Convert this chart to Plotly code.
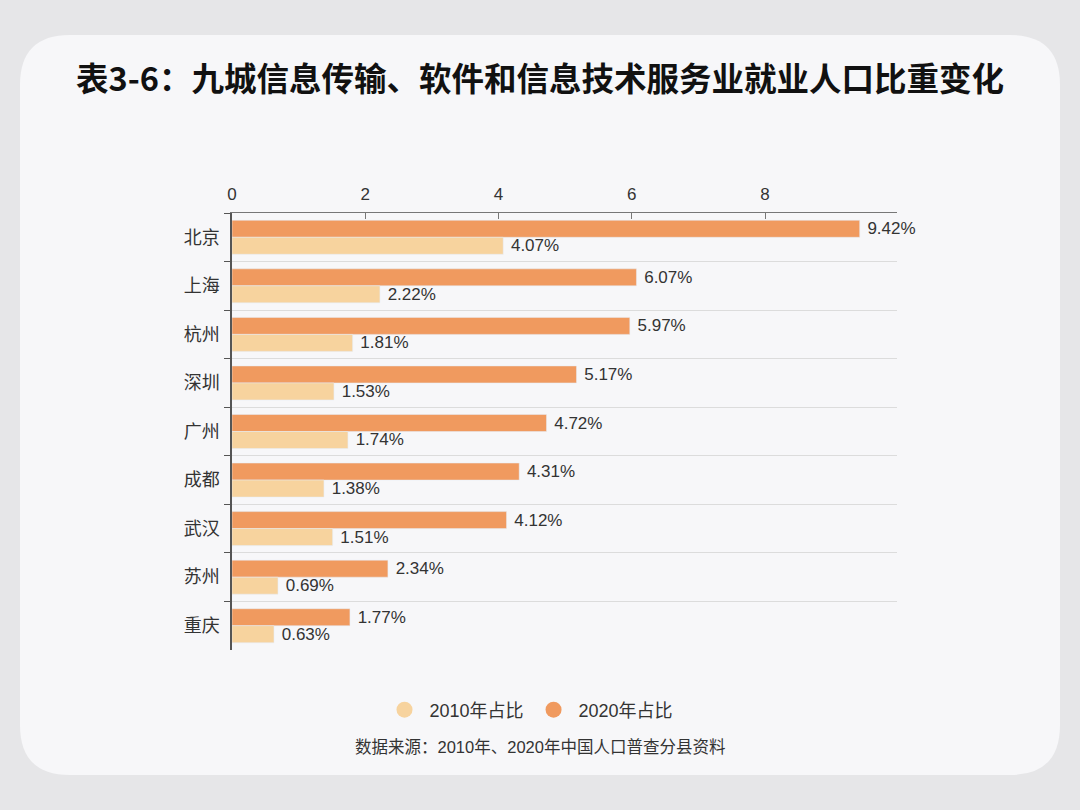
import plotly.graph_objects as go

cities = ["北京", "上海", "杭州", "深圳", "广州", "成都", "武汉", "苏州", "重庆"]
v2020 = [9.42, 6.07, 5.97, 5.17, 4.72, 4.31, 4.12, 2.34, 1.77]
v2010 = [4.07, 2.22, 1.81, 1.53, 1.74, 1.38, 1.51, 0.69, 0.63]
xticks = [0, 2, 4, 6, 8]

c2020 = "#F09A5F"
c2010 = "#F7D39E"
font_family = "Liberation Sans, Noto Sans CJK SC, sans-serif"

# plot area in pixels
L, R, T, B = 232, 897, 213, 650
W, H = R - L, B - T


def px(x, y):
    return f"{(x - L) / W:.5f},{(B - y) / H:.5f}"


fig = go.Figure()
fig.add_trace(go.Bar(
    y=cities, x=v2020, orientation="h", name="2020年占比",
    marker=dict(color=c2020), showlegend=False,
    text=[f" {v:.2f}%" for v in v2020], textposition="outside",
    constraintext="none",
    textfont=dict(size=17, color="#333"), cliponaxis=False,
))
fig.add_trace(go.Bar(
    y=cities, x=v2010, orientation="h", name="2010年占比",
    marker=dict(color=c2010), showlegend=False,
    text=[f" {v:.2f}%" for v in v2010], textposition="outside",
    constraintext="none",
    textfont=dict(size=17, color="#333"), cliponaxis=False,
))
# legend entries with circle markers
fig.add_trace(go.Scatter(x=[None], y=[None], mode="markers", name="2010年占比",
                         marker=dict(color=c2010, size=18, symbol="circle")))
fig.add_trace(go.Scatter(x=[None], y=[None], mode="markers", name="2020年占比",
                         marker=dict(color=c2020, size=18, symbol="circle")))

r = 50
x0, x1, y0, y1 = 20, 1060, 35, 775
card = (f"M {px(x0 + r, y0)} L {px(x1 - r, y0)} Q {px(x1, y0)} {px(x1, y0 + r)} "
        f"L {px(x1, y1 - r)} Q {px(x1, y1)} {px(x1 - r, y1)} "
        f"L {px(x0 + r, y1)} Q {px(x0, y1)} {px(x0, y1 - r)} "
        f"L {px(x0, y0 + r)} Q {px(x0, y0)} {px(x0 + r, y0)} Z")

fig.update_layout(
    width=1080, height=810,
    margin=dict(l=L, r=1080 - R, t=T, b=810 - B),
    paper_bgcolor="#e6e6e8",
    plot_bgcolor="rgba(0,0,0,0)",
    font=dict(family=font_family, color="#333"),
    barmode="group", bargap=0.3, bargroupgap=0,
    shapes=[dict(type="path", path=card, xref="paper", yref="paper",
                 fillcolor="#f7f7f9", line=dict(width=0), layer="below")],
    title=dict(text="<b>表3-6：九城信息传输、软件和信息技术服务业就业人口比重变化</b>",
               x=0.5, xanchor="center", y=1 - 80 / 810, yanchor="middle",
               font=dict(size=32.5, color="#111", family="Noto Sans CJK SC", weight=900)),
    legend=dict(orientation="h", x=(529 - L) / W, xanchor="center", y=-(710 - B) / H,
                yanchor="middle",
                font=dict(size=18, color="#333"), bgcolor="rgba(0,0,0,0)",
                itemwidth=40, tracegroupgap=0),
    annotations=[dict(text="数据来源：2010年、2020年中国人口普查分县资料",
                      xref="paper", yref="paper", x=(540 - L) / W, y=-(747 - B) / H,
                      xanchor="center", yanchor="middle", showarrow=False,
                      font=dict(size=16.5, color="#333"))],
)
fig.update_xaxes(
    side="top", range=[0, 9.98], tickvals=xticks, showgrid=False, zeroline=False,
    showline=True, linecolor="#777", linewidth=1, ticks="inside", ticklen=6,
    tickcolor="#777", tickfont=dict(size=17, color="#333"), ticklabelstandoff=5,
)
fig.update_yaxes(
    autorange="reversed", type="category", tickson="boundaries",
    showgrid=True, gridcolor="#dcdcdc", gridwidth=1,
    showline=True, linecolor="#555", linewidth=1.5,
    ticks="outside", ticklen=6, tickcolor="#555",
    tickfont=dict(size=18, color="#333"), zeroline=False, ticklabelstandoff=7,
)

fig.write_html("out.html")
